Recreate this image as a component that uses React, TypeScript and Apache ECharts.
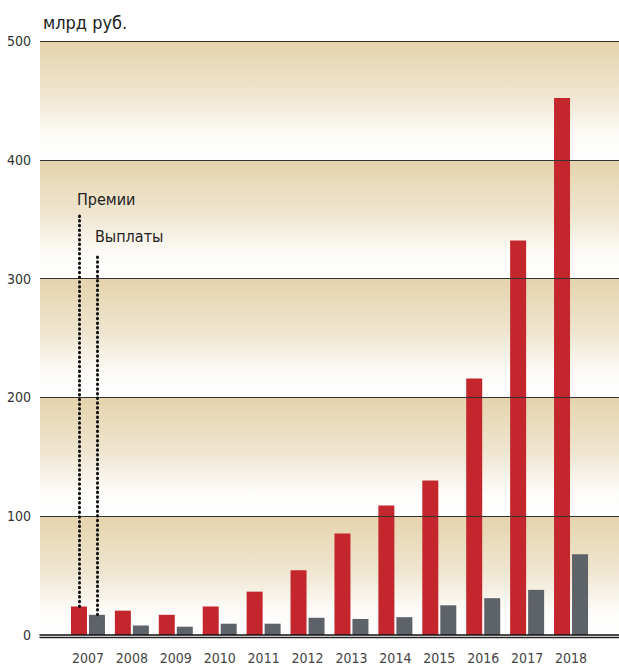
import React, { useEffect, useRef } from "react";
import * as echarts from "echarts";

const years = ["2007", "2008", "2009", "2010", "2011", "2012", "2013", "2014", "2015", "2016", "2017", "2018"];
const premiums = [24, 20.5, 17, 24, 36.5, 54.5, 85.5, 109, 130, 216, 332, 452];
const payouts = [17, 8, 7, 9.5, 9.5, 14.5, 13.5, 15, 25, 31, 38, 68];
const yTicks = [0, 100, 200, 300, 400, 500];
const unitLabel = "млрд руб.";
const premiumLabel = "Премии";
const payoutLabel = "Выплаты";
const premiumLineTop = 353;
const payoutLineTop = 321;

const FONT = '"DejaVu Sans Condensed", "Roboto", sans-serif';

export default function App() {
  const ref = useRef<HTMLDivElement>(null);
  useEffect(() => {
    if (!ref.current) return;
    const chart = echarts.init(ref.current, undefined, { renderer: "svg" });
    const bands = [];
    for (let i = 0; i < yTicks.length - 1; i++) {
      bands.push([{ yAxis: yTicks[i] }, { yAxis: yTicks[i + 1] }]);
    }
    const gridLines = yTicks.slice(1).map((v) => ({ yAxis: v }));
    const gradient = new echarts.graphic.LinearGradient(0, 0, 0, 1, [
      { offset: 0, color: "#e5d3ad" },
      { offset: 0.45, color: "#efe5cf" },
      { offset: 0.8, color: "#fdfcf9" },
      { offset: 1, color: "#ffffff" },
    ]);
    chart.setOption({
      animation: false,
      title: {
        text: unitLabel,
        left: 38,
        top: 8,
        textStyle: { fontFamily: FONT, fontSize: 18, fontWeight: "normal", color: "#222" },
      },
      grid: [
        { left: 40, right: 0, top: 41, bottom: 30 },
        { left: 66, right: 26, top: 41, bottom: 30 },
      ],
      xAxis: [
        {
          gridIndex: 0, type: "value", min: 0, max: 1, show: true, z: 10,
          axisLine: { show: true, lineStyle: { color: "#111", width: 1.6 } },
          axisTick: { show: false }, axisLabel: { show: false }, splitLine: { show: false },
        },
        {
          gridIndex: 0, type: "value", min: 0, max: 1, position: "bottom", offset: 2.5, z: 10,
          axisLine: { show: true, lineStyle: { color: "#222", width: 1.3 } },
          axisTick: { show: false }, axisLabel: { show: false }, splitLine: { show: false },
        },
        {
          gridIndex: 1, type: "category", data: years,
          axisLine: { show: false }, axisTick: { show: false },
          axisLabel: { interval: 0, margin: 16, fontFamily: FONT, fontSize: 14, color: "#444" },
        },
      ],
      yAxis: [
        {
          gridIndex: 0, type: "value", min: 0, max: 500, interval: 100,
          axisLine: { show: false }, axisTick: { show: false },
          axisLabel: { margin: 9, fontFamily: FONT, fontSize: 14, color: "#333" },
          splitLine: { show: false },
        },
        {
          gridIndex: 1, type: "value", min: 0, max: 500, interval: 100, show: false,
          splitLine: { show: false },
        },
      ],
      series: [
        {
          type: "line", xAxisIndex: 0, yAxisIndex: 0, data: [], z: 0, silent: true,
          markArea: { silent: true, itemStyle: { color: gradient }, data: bands },
          markLine: {
            silent: true, symbol: "none", label: { show: false },
            lineStyle: { color: "#333", width: 1, type: "solid" },
            data: gridLines,
          },
        },
        {
          name: premiumLabel, type: "bar", xAxisIndex: 2, yAxisIndex: 1, data: premiums,
          barWidth: 16, barGap: "12.5%", z: 2,
          itemStyle: { color: "#c4262e" },
          markLine: {
            silent: true, symbol: "none",
            lineStyle: { color: "#111", width: 3, type: [0.5, 4.2], cap: "round" },
            label: { show: false },
            data: [[{ coord: [years[0], premiums[0]] }, { coord: [years[0], premiumLineTop] }]],
          },
          markPoint: {
            silent: true, symbol: "circle", symbolSize: 0,
            label: {
              show: true, position: [-2, -16], align: "left", verticalAlign: "middle",
              formatter: premiumLabel, fontFamily: FONT, fontSize: 16, color: "#222",
            },
            data: [{ coord: [years[0], premiumLineTop] }],
          },
        },
        {
          name: payoutLabel, type: "bar", xAxisIndex: 2, yAxisIndex: 1, data: payouts,
          barWidth: 16, barGap: "12.5%", z: 2,
          itemStyle: { color: "#5e6269" },
          markLine: {
            silent: true, symbol: "none",
            lineStyle: { color: "#111", width: 3, type: [0.5, 4.2], cap: "round" },
            label: { show: false },
            data: [[{ coord: [years[0], payouts[0]] }, { coord: [years[0], payoutLineTop] }]],
          },
          markPoint: {
            silent: true, symbol: "circle", symbolSize: 0,
            label: {
              show: true, position: [-2, -17], align: "left", verticalAlign: "middle",
              formatter: payoutLabel, fontFamily: FONT, fontSize: 16, color: "#222",
            },
            data: [{ coord: [years[0], payoutLineTop] }],
          },
        },
      ],
    });
    return () => chart.dispose();
  }, []);
  return (
    <div
      ref={ref}
      style={{ position: "absolute", left: 0, top: 0, width: 619, height: 665, background: "#fff" }}
    />
  );
}
